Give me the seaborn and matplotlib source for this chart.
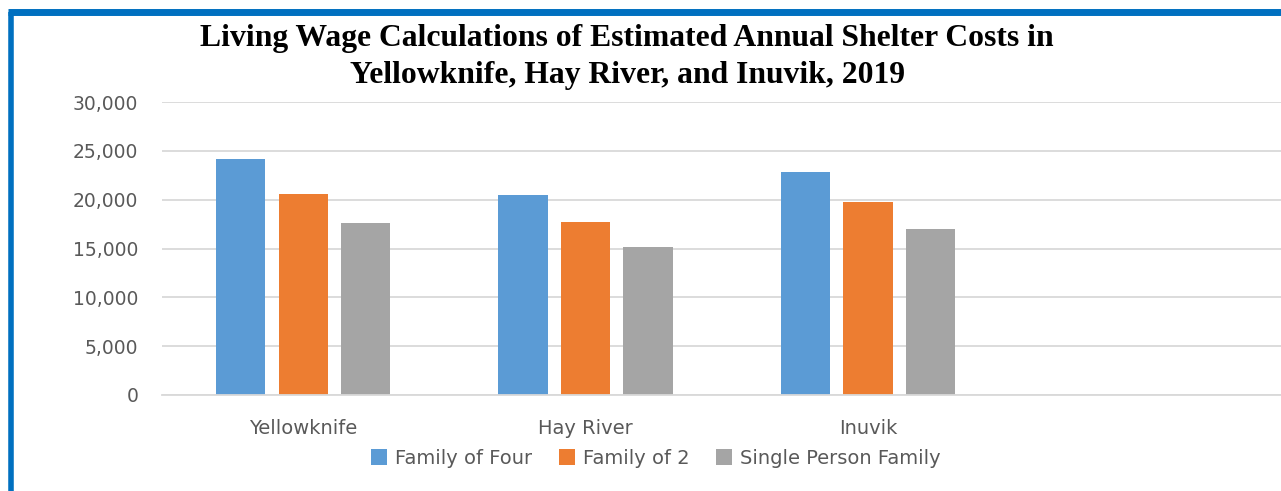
import pandas as pd
import numpy as np
import matplotlib.pyplot as plt
import seaborn as sns
from matplotlib.ticker import FuncFormatter
from matplotlib.lines import Line2D

# datos
ciudades = ['Yellowknife', 'Hay River', 'Inuvik']
familia_cuatro = [24150, 20450, 22800]
familia_dos = [20600, 17700, 19750]
persona_sola = [17650, 15200, 16950]
series = ['Family of Four', 'Family of 2', 'Single Person Family']
colores = ['#5B9BD5', '#ED7D31', '#A5A5A5']

df = pd.DataFrame({
    'ciudad': ciudades * 3,
    'costo': familia_cuatro + familia_dos + persona_sola,
    'tipo': [s for s in series for _ in ciudades],
})

sns.set_theme(style='white')
plt.rcParams['font.family'] = ['DejaVu Sans']

fig = plt.figure(figsize=(12.81, 4.91), dpi=100)
ax = fig.add_axes([162 / 1281, 1 - 395 / 491, 1 - 162 / 1281, (395 - 102) / 491])

sns.barplot(data=df, x='ciudad', y='costo', hue='tipo', palette=colores,
            width=0.664, gap=0.21, linewidth=0, saturation=1, ax=ax, legend=False)

ax.set_ylim(0, 30000)
ax.set_xlim(-0.5, 3.462)
ax.set_yticks(np.arange(0, 30001, 5000))
ax.yaxis.set_major_formatter(FuncFormatter(lambda v, p: f'{int(v):,}'))
ax.grid(axis='y', color='#d9d9d9', linewidth=1.3)
ax.set_axisbelow(True)
for lado in ['top', 'right', 'left']:
    ax.spines[lado].set_visible(False)
ax.spines['bottom'].set_color('#d9d9d9')
ax.spines['bottom'].set_linewidth(1.3)
ax.tick_params(axis='both', length=0, labelcolor='#595959')
ax.tick_params(axis='y', pad=17, labelsize=13.5)
ax.tick_params(axis='x', pad=17, labelsize=14)
ax.set_xlabel('')
ax.set_ylabel('')

# titulo
fig.text(627 / 1281, 1 - 57 / 491, 'Living Wage Calculations of Estimated Annual Shelter Costs in\nYellowknife, Hay River, and Inuvik, 2019',
         ha='center', va='center', fontsize=22.8, fontweight='bold',
         family='Liberation Serif', linespacing=1.32, color='black')

# leyenda
handles = [Line2D([0], [0], marker='s', linestyle='', markersize=11,
                  markerfacecolor=c, markeredgewidth=0) for c in colores]
fig.legend(handles, series, loc='center', bbox_to_anchor=(655 / 1281, 1 - 458 / 491),
           ncol=3, frameon=False, fontsize=14, labelcolor='#595959',
           handletextpad=0.3, columnspacing=1.3, handlelength=1.0)

# marco azul
fig.add_artist(plt.Line2D([10.5 / 1281, 10.5 / 1281], [0, 1 - 11.5 / 491], color='#0070C0',
                          linewidth=4, transform=fig.transFigure, solid_capstyle='butt'))
fig.add_artist(plt.Line2D([8 / 1281, 1], [1 - 11.5 / 491, 1 - 11.5 / 491], color='#0070C0',
                          linewidth=5, transform=fig.transFigure, solid_capstyle='butt'))

plt.savefig('out.png', dpi=100)
plt.close()
